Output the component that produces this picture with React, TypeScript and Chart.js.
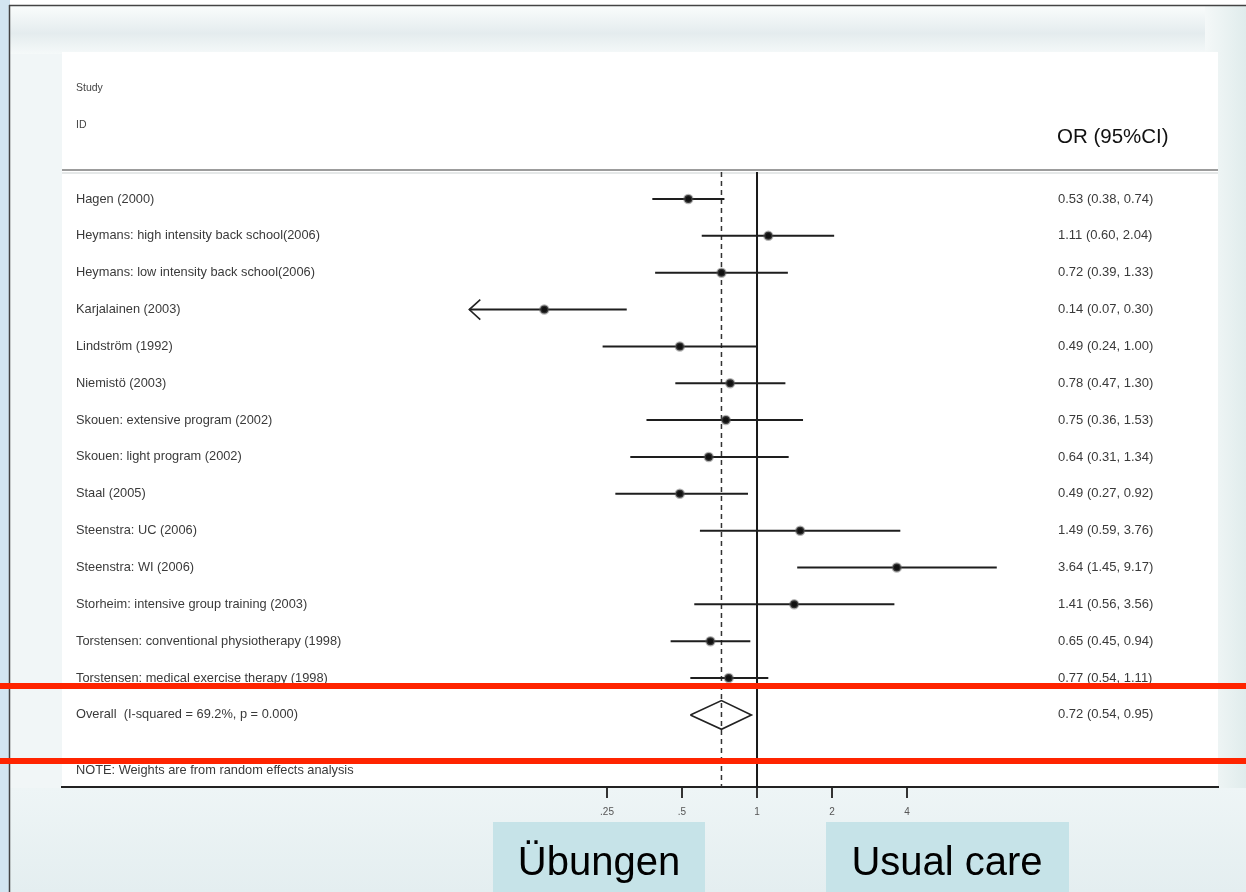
import React, { useEffect, useRef } from "react";
import { Chart, registerables } from "chart.js";

Chart.register(...registerables);

// ---------------- data ----------------
const studies = [
  "Hagen (2000)",
  "Heymans: high intensity back school(2006)",
  "Heymans: low intensity back school(2006)",
  "Karjalainen (2003)",
  "Lindström (1992)",
  "Niemistö (2003)",
  "Skouen: extensive program (2002)",
  "Skouen: light program (2002)",
  "Staal (2005)",
  "Steenstra: UC (2006)",
  "Steenstra: WI (2006)",
  "Storheim: intensive group training (2003)",
  "Torstensen: conventional physiotherapy (1998)",
  "Torstensen: medical exercise therapy (1998)",
];
const orEst = [0.53, 1.11, 0.72, 0.14, 0.49, 0.78, 0.75, 0.64, 0.49, 1.49, 3.64, 1.41, 0.65, 0.77];
const ciLow = [0.38, 0.6, 0.39, 0.07, 0.24, 0.47, 0.36, 0.31, 0.27, 0.59, 1.45, 0.56, 0.45, 0.54];
const ciHigh = [0.74, 2.04, 1.33, 0.3, 1.0, 1.3, 1.53, 1.34, 0.92, 3.76, 9.17, 3.56, 0.94, 1.11];

const overallLabel = "Overall  (I-squared = 69.2%, p = 0.000)";
const overallEst = 0.72;
const overallLow = 0.54;
const overallHigh = 0.95;

const tickValues = [0.25, 0.5, 1, 2, 4];
const tickLabels = [".25", ".5", "1", "2", "4"];
const xLowerLimit = 0.07;

const headerStudy = "Study";
const headerId = "ID";
const headerOr = "OR (95%CI)";
const noteText = "NOTE: Weights are from random effects analysis";
const groupLeft = "Übungen";
const groupRight = "Usual care";

// ---------------- layout constants ----------------
const W = 1246;
const H = 892;
const Y_MIN = 0.267;
const Y_MAX = 16.956;
const NOTE_ROW = 16.5;
const OVERALL_ROW = studies.length + 1;
const DIAMOND_HALF = 0.39;
const FONT = "'Liberation Sans', Arial, sans-serif";

const fmt = (v: number) => v.toFixed(2);

const bgPlugin = {
  id: "bg",
  beforeDraw(chart: any) {
    const ctx = chart.ctx;
    ctx.save();
    ctx.fillStyle = "#ffffff";
    ctx.fillRect(0, 0, W, H);
    ctx.fillStyle = "#d3e5f1";
    ctx.fillRect(0, 0, 10, H);
    ctx.fillStyle = "#f1f6f7";
    ctx.fillRect(10, 6, W - 10, H - 6);
    const g = ctx.createLinearGradient(0, 8, 0, 54);
    g.addColorStop(0, "#f8fbfb");
    g.addColorStop(0.55, "#e4ecee");
    g.addColorStop(1, "#f5f9f9");
    ctx.fillStyle = g;
    ctx.fillRect(10, 6, W - 10, 48);
    const gr = ctx.createLinearGradient(1205, 0, W, 0);
    gr.addColorStop(0, "#f4f8f8");
    gr.addColorStop(1, "#e0ecec");
    ctx.fillStyle = gr;
    ctx.fillRect(1205, 6, W - 1205, H - 6);
    const gb = ctx.createLinearGradient(0, 788, 0, H);
    gb.addColorStop(0, "#eef5f6");
    gb.addColorStop(1, "#e4eef0");
    ctx.fillStyle = gb;
    ctx.fillRect(10, 788, W - 10, H - 788);
    ctx.fillStyle = "#ffffff";
    ctx.fillRect(62, 52, 1156, 117);
    ctx.fillRect(62, 171, 1156, 616);
    ctx.strokeStyle = "#9c9c9c";
    ctx.lineWidth = 2;
    ctx.beginPath();
    ctx.moveTo(62, 170);
    ctx.lineTo(1218, 170);
    ctx.stroke();
    ctx.strokeStyle = "rgba(180,190,190,0.35)";
    ctx.lineWidth = 2;
    ctx.beginPath();
    ctx.moveTo(62, 173);
    ctx.lineTo(1218, 173);
    ctx.stroke();
    ctx.strokeStyle = "#444";
    ctx.lineWidth = 1.5;
    ctx.beginPath();
    ctx.moveTo(9.5, 5);
    ctx.lineTo(9.5, H);
    ctx.moveTo(9, 5.5);
    ctx.lineTo(W, 5.5);
    ctx.stroke();
    ctx.restore();
  },
};

const overlayPlugin = {
  id: "overlay",
  afterDraw(chart: any) {
    const ctx = chart.ctx;
    const xs = chart.scales.x;
    const ys = chart.scales.y;
    ctx.save();
    ctx.fillStyle = "#444";
    ctx.textBaseline = "middle";
    ctx.textAlign = "left";
    ctx.font = `10.5px ${FONT}`;
    ctx.fillText(headerStudy, 76, 88);
    ctx.fillText(headerId, 76, 125);
    ctx.fillStyle = "#111";
    ctx.font = `20.5px ${FONT}`;
    ctx.fillText(headerOr, 1057, 137);

    ctx.fillStyle = "#3a3a3a";
    studies.forEach((s, i) => {
      const y = ys.getPixelForValue(i + 1);
      ctx.font = `12.8px ${FONT}`;
      ctx.fillText(s, 76, y);
      ctx.font = `13px ${FONT}`;
      ctx.fillText(`${fmt(orEst[i])} (${fmt(ciLow[i])}, ${fmt(ciHigh[i])})`, 1058, y);
    });
    const yo = ys.getPixelForValue(OVERALL_ROW);
    ctx.font = `12.8px ${FONT}`;
    ctx.fillText(overallLabel, 76, yo);
    ctx.fillText(noteText, 76, ys.getPixelForValue(NOTE_ROW));
    ctx.font = `13px ${FONT}`;
    ctx.fillText(`${fmt(overallEst)} (${fmt(overallLow)}, ${fmt(overallHigh)})`, 1058, yo);

    ctx.strokeStyle = "#222";
    ctx.lineWidth = 1.6;
    ciLow.forEach((lo, i) => {
      if (lo <= xLowerLimit) {
        const px = xs.getPixelForValue(xLowerLimit);
        const py = ys.getPixelForValue(i + 1);
        ctx.beginPath();
        ctx.moveTo(px + 11, py - 10);
        ctx.lineTo(px, py);
        ctx.lineTo(px + 11, py + 10);
        ctx.stroke();
      }
    });

    ctx.fillStyle = "#ff2400";
    ctx.fillRect(0, 683, W, 6);
    ctx.fillRect(0, 758, W, 6);

    ctx.fillStyle = "#c6e3e8";
    ctx.fillRect(493, 822, 212, 70);
    ctx.fillRect(826, 822, 243, 70);
    ctx.fillStyle = "#000";
    ctx.font = `40px ${FONT}`;
    ctx.textAlign = "center";
    ctx.textBaseline = "alphabetic";
    ctx.fillText(groupLeft, 599, 875);
    ctx.fillText(groupRight, 947, 875);
    ctx.restore();
  },
};

export default function App() {
  const ref = useRef<HTMLCanvasElement | null>(null);

  useEffect(() => {
    if (!ref.current) return;
    const ciData: any[] = [];
    studies.forEach((_, i) => {
      ciData.push({ x: Math.max(ciLow[i], xLowerLimit), y: i + 1 });
      ciData.push({ x: ciHigh[i], y: i + 1 });
      ciData.push({ x: null, y: null });
    });
    const pointData = studies.map((_, i) => ({ x: orEst[i], y: i + 1 }));
    const diamond = [
      { x: overallLow, y: OVERALL_ROW },
      { x: overallEst, y: OVERALL_ROW - DIAMOND_HALF },
      { x: overallHigh, y: OVERALL_ROW },
      { x: overallEst, y: OVERALL_ROW + DIAMOND_HALF },
      { x: overallLow, y: OVERALL_ROW },
    ];
    const chart = new Chart(ref.current, {
      type: "scatter",
      data: {
        datasets: [
          {
            label: "estimates",
            data: pointData,
            pointRadius: 4,
            pointBackgroundColor: "#111",
            pointBorderColor: "rgba(90,90,90,0.45)",
            pointBorderWidth: 2.5,
            showLine: false,
          },
          {
            label: "ci",
            data: ciData,
            showLine: true,
            spanGaps: false,
            borderColor: "#1e1e1e",
            borderWidth: 2,
            pointRadius: 0,
          },
          {
            label: "overall",
            data: diamond,
            showLine: true,
            borderColor: "#222",
            borderWidth: 1.6,
            pointRadius: 0,
            fill: false,
          },
          {
            label: "overall line",
            data: [
              { x: overallEst, y: Y_MIN },
              { x: overallEst, y: Y_MAX },
            ],
            showLine: true,
            borderColor: "#333",
            borderWidth: 1.5,
            borderDash: [5, 4],
            pointRadius: 0,
          },
          {
            label: "null line",
            data: [
              { x: 1, y: Y_MIN },
              { x: 1, y: Y_MAX },
            ],
            showLine: true,
            borderColor: "#1a1a1a",
            borderWidth: 2,
            pointRadius: 0,
          },
        ],
      },
      options: {
        animation: false,
        responsive: false,
        devicePixelRatio: 1,
        events: [],
        layout: { padding: { left: 62, right: 28, top: 172, bottom: 45 } },
        plugins: { legend: { display: false }, tooltip: { enabled: false } },
        scales: {
          x: {
            type: "logarithmic",
            min: 0.001623,
            max: 70.85,
            position: "bottom",
            border: { display: true, color: "#222", width: 2 },
            grid: {
              display: true,
              drawOnChartArea: false,
              drawTicks: true,
              tickLength: 11,
              color: "#333",
              lineWidth: 2,
            },
            ticks: {
              autoSkip: false,
              maxRotation: 0,
              padding: 8,
              color: "#555",
              font: { size: 10, family: FONT },
              callback: (v: any) => {
                const idx = tickValues.indexOf(Number(v));
                return idx >= 0 ? tickLabels[idx] : "";
              },
            },
            afterBuildTicks: (s: any) => {
              s.ticks = tickValues.map((v) => ({ value: v }));
            },
            afterFit: (s: any) => {
              s.height = 60;
            },
          },
          y: {
            type: "linear",
            display: false,
            reverse: true,
            min: Y_MIN,
            max: Y_MAX,
          },
        },
      },
      plugins: [bgPlugin, overlayPlugin],
    } as any);
    return () => chart.destroy();
  }, []);

  return (
    <div style={{ position: "fixed", left: 0, top: 0, width: W, height: H }}>
      <canvas ref={ref} width={W} height={H} style={{ display: "block", width: W, height: H }} />
    </div>
  );
}
